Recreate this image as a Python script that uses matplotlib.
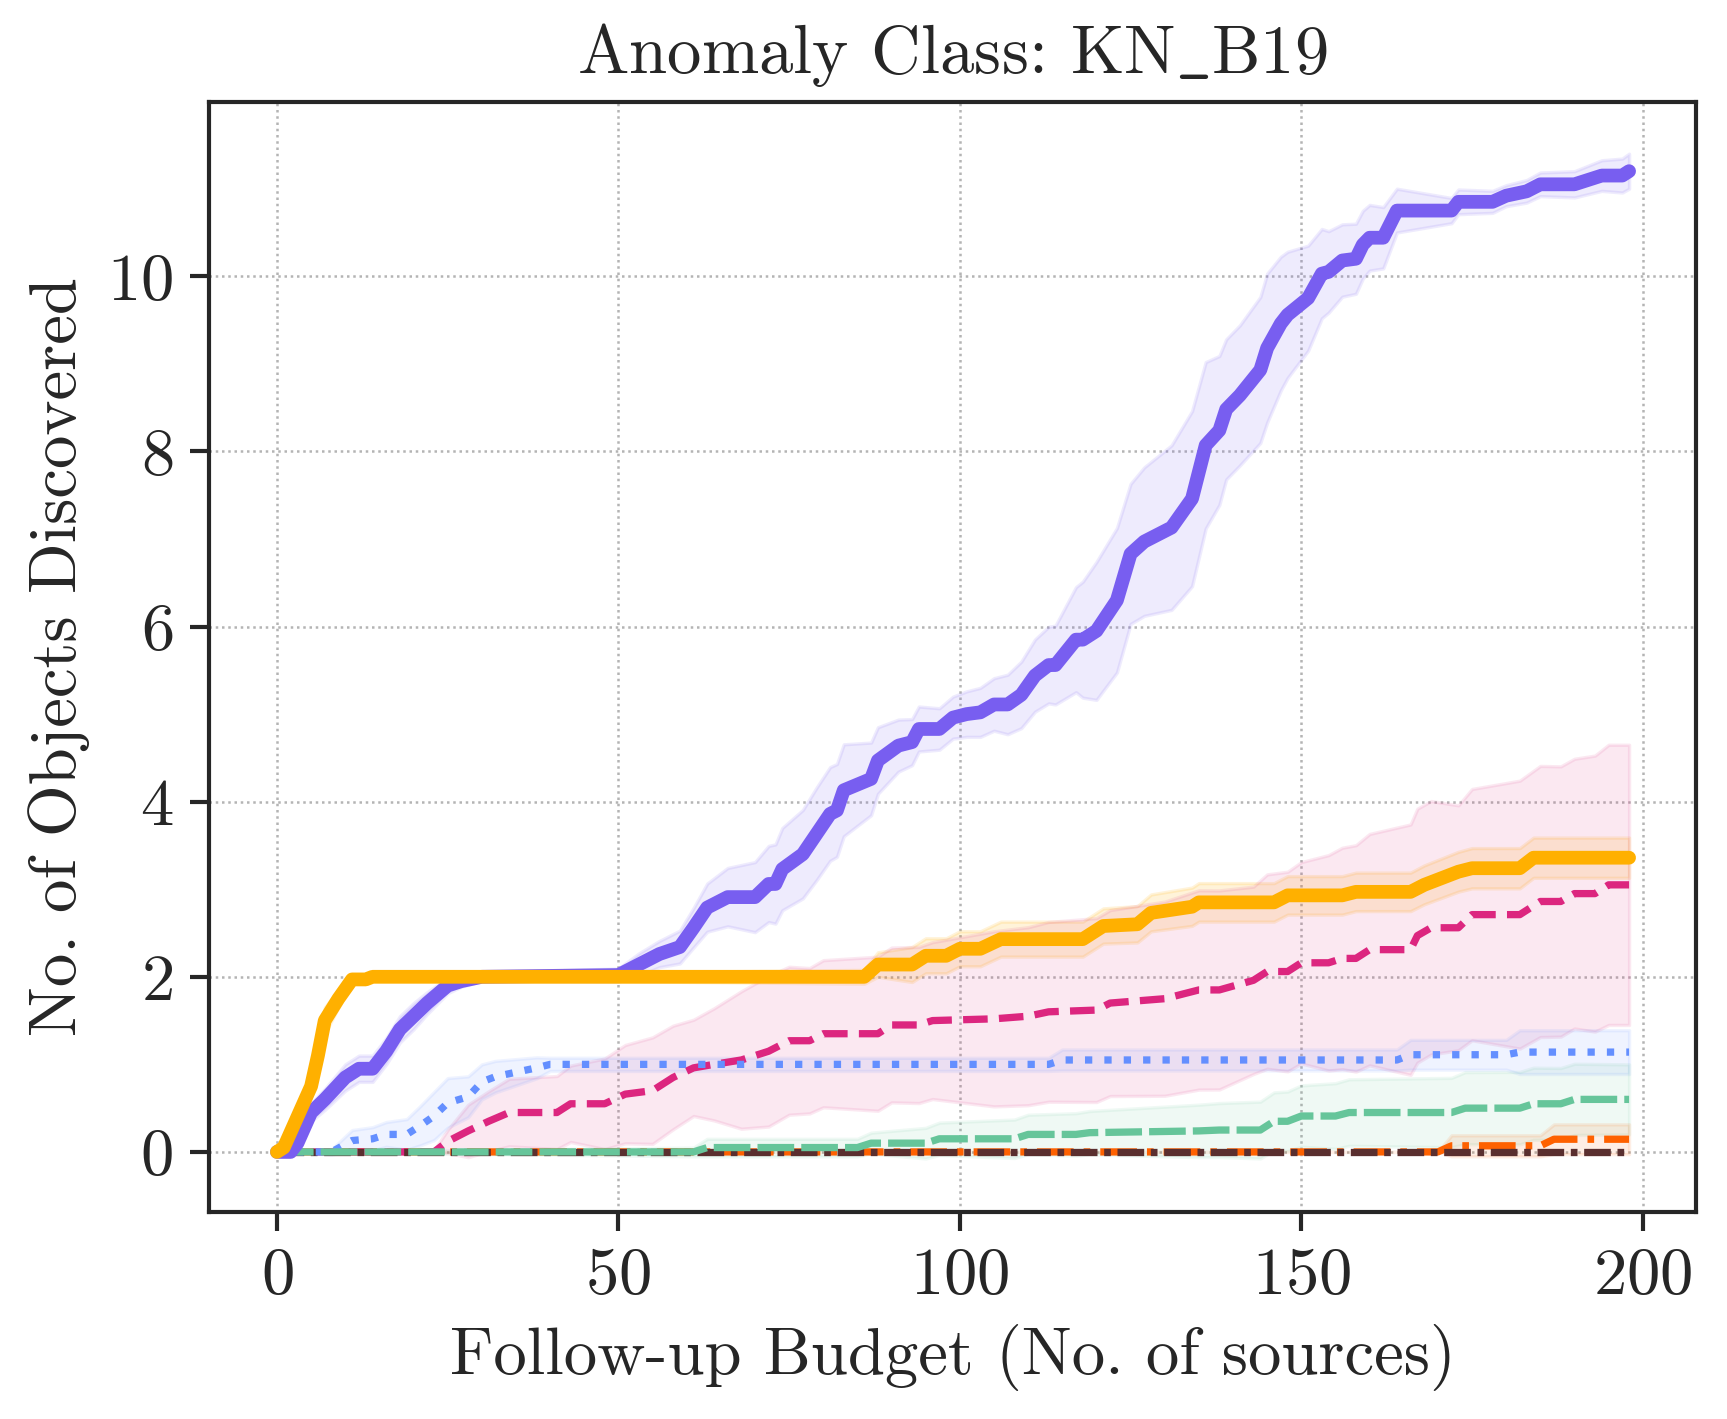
"""
=========================================================
Anomaly discovery curves: KN_B19
=========================================================
"""

import matplotlib
matplotlib.use("Agg")
import matplotlib.pyplot as plt
import numpy as np

# =========================================================
# DATA
# =========================================================

# purple, solid
purple_x = [0, 2, 3, 5, 7, 10, 12, 14, 16, 18, 20, 22, 25, 27, 30, 50, 53, 56, 59, 61,
            63, 66, 70, 72, 73, 74, 77, 79, 81, 82, 83, 87, 88, 91, 93, 94, 97, 99, 101,
            103, 105, 107, 109, 111, 113, 114, 117, 118, 120, 123, 125, 127, 131, 134,
            136, 138, 139, 141, 144, 145, 147, 148, 151, 153, 154, 156, 158, 159, 160,
            162, 164, 172, 173, 178, 180, 183, 185, 190, 192, 194, 197, 198]
purple_y = [0, 0, 0.1, 0.45, 0.6, 0.85, 0.95, 0.95, 1.15, 1.4, 1.55, 1.7, 1.9, 1.95, 2.0,
            2.02, 2.14, 2.26, 2.34, 2.56, 2.79, 2.91, 2.91, 3.06, 3.06, 3.23, 3.4, 3.63,
            3.86, 3.9, 4.13, 4.26, 4.47, 4.64, 4.68, 4.83, 4.83, 4.96, 5.0, 5.02, 5.11,
            5.11, 5.22, 5.44, 5.56, 5.56, 5.85, 5.85, 5.95, 6.3, 6.83, 6.97, 7.13, 7.46,
            8.07, 8.24, 8.48, 8.64, 8.93, 9.18, 9.46, 9.56, 9.75, 10.03, 10.05, 10.18,
            10.2, 10.36, 10.44, 10.44, 10.75, 10.75, 10.85, 10.85, 10.92, 10.97, 11.05,
            11.05, 11.1, 11.15, 11.15, 11.2]
purple_sd_x = [0, 5, 10, 20, 28, 48, 52, 56, 60, 64, 70, 74, 80, 84, 88, 92, 98, 105,
               110, 114, 117, 121, 125, 130, 134, 136, 139, 142, 145, 148, 151, 155,
               158, 162, 165, 170, 180, 190, 198]
purple_sd = [0, 0.1, 0.15, 0.15, 0.05, 0.03, 0.12, 0.15, 0.2, 0.3, 0.4, 0.47, 0.54,
             0.52, 0.38, 0.27, 0.23, 0.3, 0.4, 0.45, 0.6, 0.85, 0.8, 0.92, 1.0, 0.95,
             0.8, 0.8, 0.85, 0.72, 0.6, 0.42, 0.4, 0.35, 0.2, 0.15, 0.12, 0.15, 0.2]

# amber, solid
amber_x = [0, 1, 3, 5, 6, 7, 9, 11, 13, 14, 86, 88, 93, 95, 98, 100, 103, 106, 118,
           121, 126, 128, 134, 135, 146, 148, 156, 158, 166, 168, 173, 175, 182, 184, 198]
amber_y = [0, 0.05, 0.4, 0.75, 1.1, 1.5, 1.75, 1.97, 1.97, 2.0, 2.0, 2.14, 2.14, 2.24,
           2.24, 2.32, 2.32, 2.43, 2.43, 2.58, 2.6, 2.73, 2.8, 2.85, 2.85, 2.93, 2.93,
           2.97, 2.97, 3.05, 3.2, 3.24, 3.24, 3.36, 3.36]
amber_sd_x = [0, 3, 7, 11, 14, 60, 85, 90, 100, 120, 135, 150, 166, 175, 198]
amber_sd = [0, 0.1, 0.15, 0.05, 0.02, 0.02, 0.05, 0.2, 0.2, 0.2, 0.22, 0.22, 0.22,
            0.23, 0.23]

# magenta, dashed
magenta_x = [0, 23, 25, 28, 31, 34, 41, 43, 48, 51, 55, 58, 61, 64, 68, 72, 75, 78, 80,
             88, 90, 94, 96, 105, 110, 113, 120, 122, 130, 135, 138, 143, 145, 148, 150,
             154, 156, 158, 160, 166, 167, 169, 173, 175, 182, 185, 188, 190, 193, 195,
             198]
magenta_y = [0, 0, 0.12, 0.24, 0.35, 0.45, 0.45, 0.55, 0.55, 0.66, 0.7, 0.85, 0.96, 1.0,
             1.05, 1.15, 1.27, 1.27, 1.35, 1.35, 1.45, 1.45, 1.5, 1.52, 1.55, 1.6, 1.62,
             1.7, 1.75, 1.85, 1.85, 1.96, 2.06, 2.06, 2.16, 2.16, 2.21, 2.21, 2.31, 2.31,
             2.47, 2.56, 2.56, 2.71, 2.71, 2.86, 2.86, 2.95, 2.95, 3.05, 3.05]
magenta_sd_x = [0, 23, 28, 35, 42, 50, 56, 61, 66, 70, 78, 88, 98, 105, 120, 137, 143,
                146, 150, 155, 162, 168, 172, 178, 184, 190, 195, 198]
magenta_sd = [0, 0.02, 0.3, 0.4, 0.42, 0.55, 0.62, 0.55, 0.7, 0.87, 0.83, 0.88, 0.9,
              1.0, 1.05, 1.15, 1.07, 1.13, 1.15, 1.25, 1.35, 1.47, 1.38, 1.49, 1.55,
              1.54, 1.6, 1.6]

# blue, dotted
blue_x = [0, 8, 11, 14, 16, 19, 21, 23, 25, 28, 30, 32, 35, 38, 40, 113, 115, 164, 166,
          180, 182, 198]
blue_y = [0, 0, 0.13, 0.15, 0.2, 0.2, 0.3, 0.41, 0.56, 0.63, 0.8, 0.86, 0.91, 0.96,
          1.0, 1.0, 1.05, 1.05, 1.11, 1.11, 1.14, 1.14]
blue_sd_x = [0, 8, 11, 18, 24, 30, 38, 42, 112, 114, 164, 166, 180, 182, 198]
blue_sd = [0, 0.03, 0.12, 0.15, 0.3, 0.2, 0.12, 0.03, 0.03, 0.12, 0.12, 0.17, 0.17,
           0.25, 0.25]

# green, long dashes
green_x = [0, 61, 63, 85, 87, 95, 97, 108, 110, 117, 119, 135, 138, 144, 146, 148, 150,
           155, 157, 172, 174, 182, 184, 188, 190, 198]
green_y = [0, 0, 0.05, 0.05, 0.1, 0.1, 0.15, 0.15, 0.2, 0.2, 0.22, 0.24, 0.25, 0.25,
           0.35, 0.35, 0.41, 0.41, 0.45, 0.45, 0.5, 0.5, 0.55, 0.55, 0.6, 0.6]
green_sd_x = [0, 60, 62, 85, 90, 100, 120, 135, 146, 156, 170, 175, 198]
green_sd = [0, 0, 0.1, 0.1, 0.15, 0.2, 0.25, 0.3, 0.33, 0.38, 0.38, 0.42, 0.4]

# orange, dash-dot
orange_x = [0, 170, 172, 185, 187, 198]
orange_y = [0, 0, 0.07, 0.07, 0.145, 0.145]
orange_sd = [0, 0, 0.12, 0.12, 0.17, 0.17]

# brown, dash-dot
brown_x = [0, 198]
brown_y = [0, 0]

# =========================================================
# STYLE
# =========================================================

plt.rcParams["font.family"] = ["cmr10", "DejaVu Serif"]
plt.rcParams["mathtext.fontset"] = "cm"
plt.rcParams["axes.formatter.use_mathtext"] = True
plt.rcParams["lines.scale_dashes"] = False
plt.rcParams["text.color"] = "#262626"
plt.rcParams["axes.labelcolor"] = "#262626"
plt.rcParams["xtick.color"] = "#262626"
plt.rcParams["ytick.color"] = "#262626"

FS = 16

fig = plt.figure(figsize=(1727 / 300, 1419 / 300), dpi=300)
ax = fig.add_axes([209 / 1727, 1 - 1212 / 1419, (1696 - 209) / 1727, (1212 - 102) / 1419])

# =========================================================
# BANDS + LINES
# =========================================================


def band(x, y, sx, s, color, alpha=0.12):
    # spread is listed at its own knots; put it on the mean's knots for fill_between
    s_on_x = np.interp(x, sx, s)
    lo = np.array(y) - s_on_x
    hi = np.array(y) + s_on_x
    ax.fill_between(x, lo, hi, color=color, alpha=alpha, linewidth=0.8, zorder=1)


band(purple_x, purple_y, purple_sd_x, purple_sd, "#785EF0")
band(amber_x, amber_y, amber_sd_x, amber_sd, "#FFB000", alpha=0.15)
band(magenta_x, magenta_y, magenta_sd_x, magenta_sd, "#DC267F", alpha=0.1)
band(blue_x, blue_y, blue_sd_x, blue_sd, "#648FFF", alpha=0.1)
band(green_x, green_y, green_sd_x, green_sd, "#66C59A", alpha=0.1)
band(orange_x, orange_y, orange_x, orange_sd, "#FE6100", alpha=0.1)

thin = 1.75

ax.plot(orange_x, orange_y, color="#FE6100", lw=thin,
        dashes=(8.8, 2.4, 1.6, 2.4), zorder=3)
ax.plot(magenta_x, magenta_y, color="#DC267F", lw=thin,
        dashes=(5.9, 2.7), zorder=3.1)
ax.plot(brown_x, brown_y, color="#5A2F2F", lw=thin,
        dashes=(6.4, 1.6, 1.6, 1.6), zorder=3.2)
ax.plot(blue_x, blue_y, color="#648FFF", lw=thin,
        dashes=(1.75, 2.9), zorder=3.3)
ax.plot(green_x, green_y, color="#66C59A", lw=thin,
        dashes=(8.8, 1.7), zorder=3.4)
ax.plot(purple_x, purple_y, color="#785EF0", lw=3.3,
        solid_capstyle="round", solid_joinstyle="round", zorder=3.5)
ax.plot(amber_x, amber_y, color="#FFB000", lw=3.3,
        solid_capstyle="round", solid_joinstyle="round", zorder=3.6)

# =========================================================
# AXES
# =========================================================

ax.set_xlim(-9.95, 207.8)
ax.set_ylim(-0.686, 11.99)
ax.set_xticks([0, 50, 100, 150, 200])
ax.set_yticks([0, 2, 4, 6, 8, 10])

ax.grid(True, color="#b4b4b4", linewidth=0.6, linestyle=(0, (0.6, 0.9)))
ax.set_axisbelow(True)

for sp in ax.spines.values():
    sp.set_linewidth(1.0)
    sp.set_color("#262626")

ax.tick_params(axis="both", direction="out", length=4.6, width=1.0,
               labelsize=FS, pad=4)

# cmr10 has a dot accent where "_" should be, so the underscore goes through mathtext
ax.set_title(r"Anomaly Class: KN$\_$B19", fontsize=16.5, pad=7)
ax.set_xlabel("Follow-up Budget (No. of sources)", fontsize=FS)
ax.set_ylabel("No. of Objects Discovered", fontsize=FS)

fig.savefig("out.png", dpi=300)
